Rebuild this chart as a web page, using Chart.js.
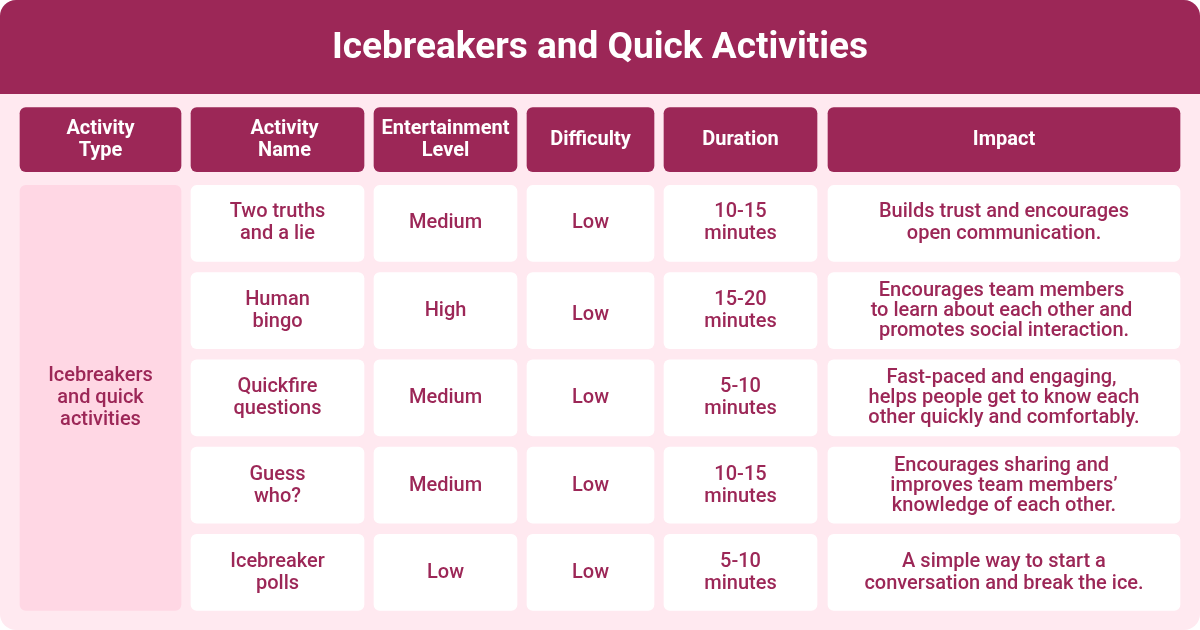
<!DOCTYPE html>
<html>
<head>
<meta charset="utf-8">
<script src="https://cdn.jsdelivr.net/npm/chart.js@4"></script>
<style>
  html, body { margin: 0; padding: 0; background: #fff; }
  #card { position: relative; width: 1200px; height: 630px; overflow: hidden; border-radius: 16px; background: #ffe9f0; }
  #band { position: absolute; left: 0; top: 0; width: 1200px; height: 94px; background: #9c2757; }
  #cha { position: absolute; left: 0; top: 0; }
</style>
</head>
<body>
<div id="card">
  <div id="band"></div>
  <canvas id="cha" width="1200" height="630"></canvas>
</div>
<script>
var title = "Icebreakers and Quick Activities";
var headers = ["Activity\nType", "Activity\nName", "Entertainment\nLevel", "Difficulty", "Duration", "Impact"];
var activityType = "Icebreakers\nand quick\nactivities";
var activityNames = ["Two truths\nand a lie", "Human\nbingo", "Quickfire\nquestions", "Guess\nwho?", "Icebreaker\npolls"];
var entertainment = ["Medium", "High", "Medium", "Medium", "Low"];
var difficulty = ["Low", "Low", "Low", "Low", "Low"];
var duration = ["10-15\nminutes", "15-20\nminutes", "5-10\nminutes", "10-15\nminutes", "5-10\nminutes"];
// trailing spaces are in the original text, they shift the centred line a bit
var impact = [
  "Builds trust and encourages\nopen communication.",
  "Encourages team members \nto learn about each other and \npromotes social interaction.",
  "Fast-paced and engaging, \nhelps people get to know each\nother quickly and comfortably.",
  "Encourages sharing and \nimproves team members\u2019\nknowledge of each other.",
  "A simple way to start a\nconversation and break the ice."
];

// column spans on the 0-1200 x axis
var colStart = [20, 191, 374, 527, 664, 828];
var colEnd = [181, 364, 517, 654, 817, 1180];

var crimson = "#9c2757";
var bodyCols = [activityNames, entertainment, difficulty, duration, impact];
var datasets = [];

headers.forEach(function(h, i) {
  datasets.push({
    yAxisID: "yHead",
    data: [[colStart[i], colEnd[i]]],
    texts: [h],
    textColor: "#fff",
    fontWeight: 700,
    backgroundColor: crimson,
    barThickness: 64,
    textDx: i == 1 ? 7 : 0
  });
});

// merged first column sits on the middle row and spans all five
datasets.push({
  yAxisID: "yBody",
  data: activityNames.map(function(n, r) { return r == 2 ? [colStart[0], colEnd[0]] : null; }),
  texts: activityNames.map(function(n, r) { return r == 2 ? activityType : null; }),
  textColor: crimson,
  fontWeight: 500,
  backgroundColor: "#ffd7e4",
  barThickness: 425
});

bodyCols.forEach(function(col, c) {
  datasets.push({
    yAxisID: "yBody",
    data: col.map(function() { return [colStart[c + 1], colEnd[c + 1]]; }),
    texts: col,
    textColor: crimson,
    fontWeight: 500,
    backgroundColor: "#fff",
    barThickness: 76,
    // first row text sits a pixel high, the "Low" in the Human bingo row sits lower
    textDy: col === difficulty ? [-1, 4, 0, 0, 0] : [-1, 0, 0, 0, 0]
  });
});

var cellText = {
  id: "cellText",
  afterDatasetsDraw: function(chart) {
    var ctx = chart.ctx;
    ctx.save();
    ctx.textAlign = "center";
    ctx.textBaseline = "middle";
    chart.data.datasets.forEach(function(ds, d) {
      chart.getDatasetMeta(d).data.forEach(function(el, r) {
        var txt = ds.texts[r];
        if (!txt) return;
        var lines = txt.split("\n");
        var lh = lines.length > 2 && ds.barThickness == 76 ? 20 : 22;
        var p = el.getCenterPoint();
        var x = p.x + (ds.textDx || 0);
        var y = Math.round(p.y + 0.5 + (ds.textDy ? ds.textDy[r] : 0) - (lines.length - 1) * lh / 2);
        ctx.font = ds.fontWeight + " 20px Roboto";
        ctx.fillStyle = ds.textColor;
        lines.forEach(function(l, k) {
          ctx.fillText(l, x, y + k * lh);
        });
      });
    });
    ctx.restore();
  }
};

new Chart(document.getElementById("cha"), {
  type: "bar",
  plugins: [cellText],
  data: { datasets: datasets },
  options: {
    indexAxis: "y",
    responsive: false,
    animation: false,
    layout: { padding: { left: 0, right: 0, top: 0, bottom: 14 } },
    datasets: { bar: { grouped: false, borderRadius: 6, borderSkipped: false, borderWidth: 0 } },
    scales: {
      x: { type: "linear", min: 0, max: 1200, display: false },
      yBody: {
        type: "category", labels: activityNames, display: false,
        position: "left", stack: "table", stackWeight: 436.5, offset: true
      },
      yHead: {
        type: "category", labels: ["Header"], display: false,
        position: "left", stack: "table", stackWeight: 80.5, offset: true
      }
    },
    plugins: {
      legend: { display: false },
      tooltip: { enabled: false },
      title: {
        display: true,
        text: title,
        color: "#fff",
        font: { family: "Roboto", size: 37, weight: 700 },
        padding: { top: 27, bottom: 28 }
      }
    }
  }
});
</script>
</body>
</html>
